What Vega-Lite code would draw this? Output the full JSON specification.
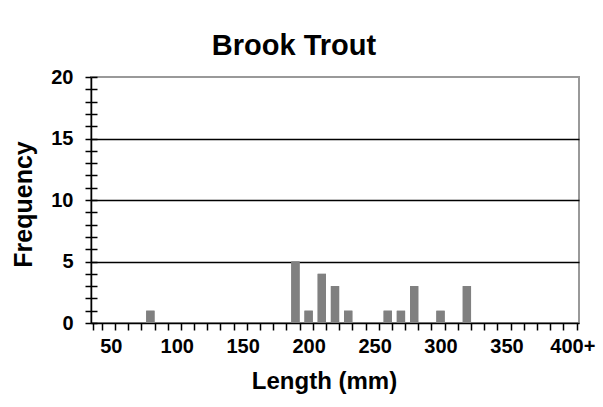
{
  "$schema": "https://vega.github.io/schema/vega-lite/v6.json",
  "width": 488,
  "height": 246,
  "autosize": {"type": "none"},
  "padding": {"left": 91, "top": 77, "right": 24, "bottom": 84},
  "background": "white",
  "title": {
    "text": "Brook Trout",
    "font": "Liberation Sans",
    "fontSize": 29,
    "fontWeight": "bold",
    "color": "black",
    "anchor": "middle",
    "frame": "group",
    "dx": -41,
    "baseline": "alphabetic",
    "offset": -17
  },
  "data": {
    "values": [
      {"len": "40", "freq": 0}, {"len": "50", "freq": 0}, {"len": "60", "freq": 0},
      {"len": "70", "freq": 0}, {"len": "80", "freq": 1}, {"len": "90", "freq": 0},
      {"len": "100", "freq": 0}, {"len": "110", "freq": 0}, {"len": "120", "freq": 0},
      {"len": "130", "freq": 0}, {"len": "140", "freq": 0}, {"len": "150", "freq": 0},
      {"len": "160", "freq": 0}, {"len": "170", "freq": 0}, {"len": "180", "freq": 0},
      {"len": "190", "freq": 5}, {"len": "200", "freq": 1}, {"len": "210", "freq": 4},
      {"len": "220", "freq": 3}, {"len": "230", "freq": 1}, {"len": "240", "freq": 0},
      {"len": "250", "freq": 0}, {"len": "260", "freq": 1}, {"len": "270", "freq": 1},
      {"len": "280", "freq": 3}, {"len": "290", "freq": 0}, {"len": "300", "freq": 1},
      {"len": "310", "freq": 0}, {"len": "320", "freq": 3}, {"len": "330", "freq": 0},
      {"len": "340", "freq": 0}, {"len": "350", "freq": 0}, {"len": "360", "freq": 0},
      {"len": "370", "freq": 0}, {"len": "380", "freq": 0}, {"len": "390", "freq": 0},
      {"len": "400+", "freq": 0}
    ]
  },
  "encoding": {
    "x": {
      "field": "len",
      "type": "nominal",
      "sort": null,
      "scale": {"paddingInner": 0.37, "paddingOuter": 0.185},
      "axis": {
        "title": "Length (mm)",
        "labelAngle": 0,
        "tickBand": "extent",
        "labelExpr": "indexof(['50','100','150','200','250','300','350','400+'], datum.value) >= 0 ? datum.value : ''",
        "labelOverlap": false,
        "labelBound": false,
        "labelFlush": false,
        "tickSize": 7,
        "labelPadding": 6,
        "titleX": 233,
        "titleY": 65,
        "titleBaseline": "alphabetic",
        "titleAlign": "center"
      }
    }
  },
  "layer": [
    {
      "mark": {"type": "bar", "color": "#808080"},
      "encoding": {
        "y": {
          "field": "freq",
          "type": "quantitative",
          "scale": {"domain": [0, 20], "nice": false},
          "axis": {
            "orient": "left",
            "title": "Frequency",
            "values": [0,1,2,3,4,5,6,7,8,9,10,11,12,13,14,15,16,17,18,19,20],
            "labelExpr": "datum.value % 5 === 0 ? datum.value : ''",
            "labelOverlap": false,
            "labelBound": false,
            "labelFlush": false,
            "tickSize": 6,
            "labelPadding": 12,
            "grid": true,
            "gridColor": "black",
            "gridWidth": 1.5,
            "gridOpacity": {"condition": {"test": "datum.value % 5 === 0 && datum.value > 0 && datum.value < 20", "value": 1}, "value": 0},
            "titleX": -60,
            "titleY": 127,
            "titleAngle": -90,
            "titleFontSize": 25,
            "titleBaseline": "alphabetic",
            "titleAlign": "center"
          }
        }
      }
    },
    {
      "mark": {"type": "bar", "color": "#808080"},
      "encoding": {
        "y": {
          "field": "freq",
          "type": "quantitative",
          "scale": {"domain": [0, 20], "nice": false},
          "axis": {
            "orient": "left",
            "title": null,
            "labels": false,
            "domain": false,
            "grid": false,
            "values": [0,1,2,3,4,5,6,7,8,9,10,11,12,13,14,15,16,17,18,19,20],
            "tickSize": -6,
            "offset": 0
          }
        }
      }
    }
  ],
  "resolve": {"axis": {"y": "independent"}},
  "config": {
    "font": "Liberation Sans",
    "view": {"stroke": "#999999", "strokeWidth": 2},
    "axis": {
      "domainColor": "black",
      "domainWidth": 1.5,
      "tickColor": "black",
      "tickWidth": 1.5,
      "labelFont": "Liberation Sans",
      "labelFontSize": 20,
      "labelFontWeight": "bold",
      "labelColor": "black",
      "titleFont": "Liberation Sans",
      "titleFontSize": 24,
      "titleFontWeight": "bold",
      "titleColor": "black"
    }
  }
}
